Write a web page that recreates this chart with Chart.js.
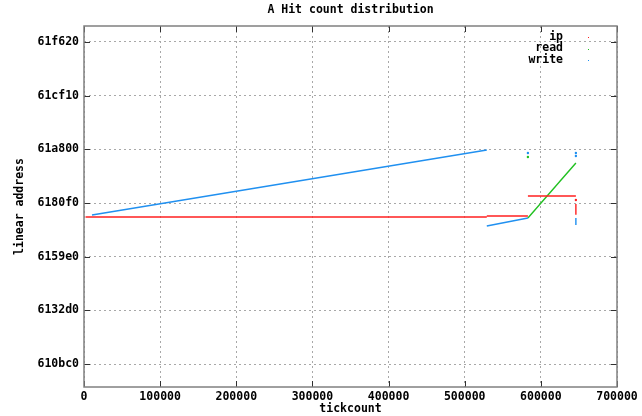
<!DOCTYPE html>
<html>
<head>
<meta charset="utf-8">
<title>A Hit count distribution</title>
<script src="https://cdn.jsdelivr.net/npm/chart.js@4.4.1/dist/chart.umd.min.js"></script>
<style>
    body { margin: 0; background: #ffffff; }
    canvas { display: block; }
</style>
</head>
<body>
<canvas id="hitChart" width="642" height="416"></canvas>
<script>
var chartTitle = 'A Hit count distribution';

// series names as shown in the key
var seriesNames = ['ip', 'read', 'write'];
var seriesColors = ['#ff2020', '#20c020', '#2090f0'];

// tickcount / address pairs, null splits the trace into pieces
var ipX = [2000, 529000, null, 529000, 583000, null, 583000, 646000, null, 646000, 646000, null, 646000];
var ipY = [6387390, 6387390, null, 6387580, 6387580, null, 6391310, 6391310, null, 6387820, 6389820, null, 6390560];

var readX = [583000, 646000, null, 583000];
var readY = [6387210, 6397460, null, 6398570];

var writeX = [10500, 529000, null, 529000, 583000, null, 583000, null, 646000, null, 646000, null, 646000, 646000];
var writeY = [6387770, 6399880, null, 6385720, 6387210, null, 6399320, null, 6399320, null, 6398760, null, 6385900, 6387210];

// axis ticks
var xTicks = [0, 100000, 200000, 300000, 400000, 500000, 600000, 700000];
var yTicks = [0x610bc0, 0x6132d0, 0x6159e0, 0x6180f0, 0x61a800, 0x61cf10, 0x61f620];
var yMin = 6355720;
var yMax = 6422980;

var fontFamily = '"DejaVu Sans Mono", "Liberation Mono", monospace';
var font = { family: fontFamily, size: 11.5, weight: 'bold' };

function toPoints(xs, ys) {
    return xs.map(function (x, i) {
        return { x: x, y: ys[i] };
    });
}

// a lone point (no neighbours) gets a small dot so it stays visible
function loneRadius(ctx) {
    var data = ctx.dataset.data;
    var i = ctx.dataIndex;
    var prev = i > 0 ? data[i - 1].y : null;
    var next = i < data.length - 1 ? data[i + 1].y : null;
    return (prev === null && next === null) ? 1.2 : 0;
}

function makeDataset(idx, xs, ys) {
    return {
        label: seriesNames[idx],
        data: toPoints(xs, ys),
        showLine: true,
        borderColor: seriesColors[idx],
        backgroundColor: seriesColors[idx],
        borderWidth: 1.4,
        pointRadius: loneRadius,
        pointBorderWidth: 0,
        spanGaps: false
    };
}

// title, frame, inward tick marks and the key in the top right corner
var framePlugin = {
    id: 'frame',
    afterDraw: function (chart) {
        var c = chart.ctx;
        var a = chart.chartArea;
        var xs = chart.scales.x;
        var ys = chart.scales.y;
        c.save();

        c.strokeStyle = '#303030';
        c.lineWidth = 1;
        c.beginPath();
        xTicks.forEach(function (v) {
            var px = Math.round(xs.getPixelForValue(v)) + 0.5;
            c.moveTo(px, a.bottom); c.lineTo(px, a.bottom - 6);
            c.moveTo(px, a.top); c.lineTo(px, a.top + 6);
        });
        yTicks.forEach(function (v) {
            var py = Math.round(ys.getPixelForValue(v)) + 0.5;
            c.moveTo(a.left, py); c.lineTo(a.left + 6, py);
            c.moveTo(a.right, py); c.lineTo(a.right - 6, py);
        });
        c.stroke();

        c.strokeStyle = '#808080';
        c.lineWidth = 1.5;
        c.strokeRect(a.left, a.top, a.right - a.left, a.bottom - a.top);

        c.font = 'bold 11.5px ' + fontFamily;
        c.textBaseline = 'middle';
        c.fillStyle = '#000000';
        c.textAlign = 'center';
        c.fillText(chartTitle, (a.left + a.right) / 2, 10);

        c.textAlign = 'right';
        seriesNames.forEach(function (name, i) {
            var y = a.top + 11 + i * 11.5;
            c.fillStyle = '#000000';
            c.fillText(name, a.right - 54, y);
            c.fillStyle = seriesColors[i];
            c.fillRect(a.right - 29, Math.round(y), 1, 1);
        });
        c.restore();
    }
};

var ctx = document.getElementById('hitChart').getContext('2d');
var hitChart = new Chart(ctx, {
    type: 'scatter',
    data: {
        datasets: [
            makeDataset(0, ipX, ipY),
            makeDataset(1, readX, readY),
            makeDataset(2, writeX, writeY)
        ]
    },
    options: {
        responsive: false,
        animation: false,
        layout: { padding: { top: 26, right: 25, bottom: 0, left: 0 } },
        plugins: {
            legend: { display: false },
            tooltip: { enabled: false },
            title: { display: false }
        },
        scales: {
            x: {
                type: 'linear',
                min: 0,
                max: 700000,
                afterFit: function (scale) { scale.height = 29; },
                afterBuildTicks: function (scale) {
                    scale.ticks = xTicks.map(function (v) { return { value: v }; });
                },
                ticks: {
                    color: '#000000',
                    font: font,
                    padding: 3,
                    maxRotation: 0,
                    autoSkip: false,
                    callback: function (v) { return String(v); }
                },
                grid: {
                    color: '#a8a8a8',
                    lineWidth: 1,
                    drawTicks: false,
                    tickLength: 0
                },
                border: { display: false, dash: [2, 3] },
                title: {
                    display: true,
                    text: 'tickcount',
                    color: '#000000',
                    font: font,
                    padding: { top: 0, bottom: 0 }
                }
            },
            y: {
                type: 'linear',
                min: yMin,
                max: yMax,
                afterFit: function (scale) { scale.width = 84; },
                afterBuildTicks: function (scale) {
                    scale.ticks = yTicks.map(function (v) { return { value: v }; });
                },
                ticks: {
                    color: '#000000',
                    font: font,
                    padding: 5,
                    autoSkip: false,
                    callback: function (v) { return v.toString(16); }
                },
                grid: {
                    color: '#a8a8a8',
                    lineWidth: 1,
                    drawTicks: false,
                    tickLength: 0
                },
                border: { display: false, dash: [2, 3] },
                title: {
                    display: true,
                    text: 'linear address',
                    color: '#000000',
                    font: font,
                    padding: { top: 13, bottom: 0 }
                }
            }
        }
    },
    plugins: [framePlugin]
});
</script>
</body>
</html>
